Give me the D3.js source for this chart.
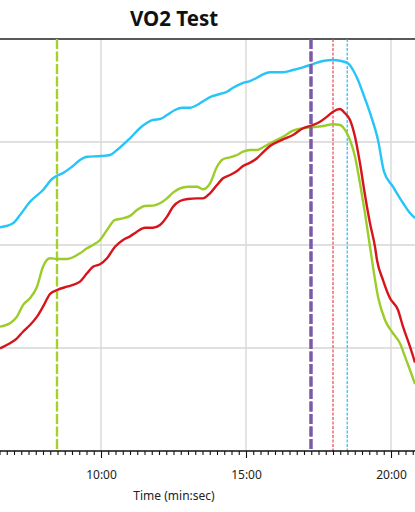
<!DOCTYPE html>
<html>
<head>
<meta charset="utf-8">
<script src="https://cdn.jsdelivr.net/npm/d3@7"></script>
<style>
  html, body { margin: 0; padding: 0; background: #fff; }
  svg { display: block; font-family: "Noto Sans", "Open Sans", sans-serif; }
</style>
</head>
<body>
<svg id="chart" width="415" height="512"></svg>
<script>
// ---- data (time in minutes, values in L/min) ----
const blueTime = [6.517, 6.966, 7.207, 7.552, 8.0, 8.310, 8.483, 8.690, 9.0, 9.276, 9.517, 10.0, 10.310, 10.552, 10.931, 11.0, 11.345, 11.586, 11.793, 12.034, 12.276, 12.552, 12.793, 13.069, 13.310, 13.586, 13.862, 14.103, 14.345, 14.552, 14.862, 15.138, 15.379, 15.586, 15.828, 16.276, 16.621, 16.966, 17.310, 17.655, 18.0, 18.241, 18.517, 18.690, 18.862, 19.034, 19.276, 19.552, 19.759, 20.069, 20.414, 20.655, 20.828];
const blueValues = [2.172, 2.211, 2.291, 2.420, 2.534, 2.641, 2.673, 2.699, 2.760, 2.825, 2.857, 2.864, 2.874, 2.922, 3.019, 3.036, 3.136, 3.187, 3.214, 3.223, 3.262, 3.311, 3.333, 3.333, 3.359, 3.408, 3.447, 3.466, 3.488, 3.527, 3.570, 3.592, 3.624, 3.657, 3.677, 3.677, 3.699, 3.725, 3.757, 3.786, 3.796, 3.789, 3.764, 3.699, 3.602, 3.473, 3.282, 3.019, 2.712, 2.566, 2.408, 2.311, 2.262];

const greenTime = [6.517, 6.862, 7.103, 7.310, 7.552, 7.793, 8.0, 8.241, 8.483, 8.828, 9.034, 9.276, 9.517, 9.724, 9.966, 10.207, 10.483, 10.759, 11.0, 11.241, 11.517, 11.793, 12.034, 12.276, 12.483, 12.724, 13.0, 13.310, 13.517, 13.759, 14.0, 14.207, 14.448, 14.690, 14.897, 15.138, 15.379, 15.586, 15.828, 16.276, 16.621, 16.966, 17.310, 17.655, 18.0, 18.241, 18.414, 18.586, 18.759, 18.931, 19.103, 19.276, 19.379, 19.552, 19.793, 20.069, 20.310, 20.483, 20.655, 20.828];
const greenValues = [1.207, 1.240, 1.304, 1.417, 1.483, 1.595, 1.789, 1.871, 1.864, 1.864, 1.881, 1.919, 1.968, 2.0, 2.049, 2.146, 2.243, 2.259, 2.283, 2.340, 2.379, 2.382, 2.405, 2.453, 2.508, 2.550, 2.566, 2.566, 2.541, 2.599, 2.760, 2.832, 2.851, 2.874, 2.906, 2.922, 2.922, 2.949, 2.987, 3.051, 3.110, 3.133, 3.143, 3.155, 3.172, 3.165, 3.117, 3.019, 2.857, 2.599, 2.308, 1.983, 1.789, 1.498, 1.272, 1.143, 1.046, 0.916, 0.786, 0.650];

const redTime = [6.517, 6.862, 7.103, 7.310, 7.552, 7.793, 8.0, 8.241, 8.483, 8.828, 9.034, 9.276, 9.517, 9.724, 9.966, 10.207, 10.483, 10.759, 11.0, 11.241, 11.517, 11.793, 12.034, 12.276, 12.483, 12.724, 13.0, 13.310, 13.517, 13.759, 14.0, 14.207, 14.448, 14.690, 14.897, 15.138, 15.379, 15.586, 15.828, 16.276, 16.621, 16.966, 17.310, 17.552, 17.793, 18.0, 18.241, 18.414, 18.586, 18.759, 18.931, 19.103, 19.276, 19.448, 19.517, 19.724, 19.966, 20.241, 20.414, 20.655, 20.828];
const redValues = [0.997, 1.046, 1.094, 1.158, 1.223, 1.304, 1.401, 1.524, 1.563, 1.595, 1.612, 1.644, 1.725, 1.789, 1.813, 1.871, 1.983, 2.049, 2.084, 2.129, 2.168, 2.168, 2.194, 2.275, 2.372, 2.427, 2.447, 2.453, 2.453, 2.502, 2.583, 2.648, 2.680, 2.718, 2.767, 2.799, 2.842, 2.900, 2.961, 3.026, 3.068, 3.133, 3.165, 3.197, 3.246, 3.294, 3.320, 3.279, 3.214, 3.051, 2.793, 2.485, 2.211, 1.983, 1.854, 1.660, 1.483, 1.369, 1.207, 1.013, 0.859];

// marker (threshold) times in minutes
const markerNames = ["VT1", "VT2", "VCO2 peak", "VO2 peak"];
const markerTimes = [8.483, 17.241, 18.0, 18.49];

const majorTicks = [10, 15, 20];
const yGridValues = [1, 2, 3];
const titleText = "VO2 Test";
const xTitleText = "Time (min:sec)";

// ---- layout ----
const W = 415, H = 512;
const plotTop = 39, plotBottom = 451;
const svg = d3.select("#chart");

const x = d3.scaleLinear().domain([10, 20]).range([101, 391]);
const y = d3.scaleLinear().domain([0, 4]).range([plotBottom, plotTop]);

const fmt = m => {
  const mm = Math.floor(m + 1e-9);
  const ss = Math.round((m - mm) * 60);
  return mm + ":" + String(ss).padStart(2, "0");
};

svg.append("defs").append("clipPath").attr("id", "clip")
  .append("rect").attr("x", 0).attr("y", plotTop).attr("width", W).attr("height", plotBottom - plotTop);

// grid
const grid = svg.append("g");
grid.selectAll("line.h").data(yGridValues).join("line")
  .attr("x1", 0).attr("x2", W)
  .attr("y1", d => y(d)).attr("y2", d => y(d))
  .attr("stroke", "#d6d6d6").attr("stroke-width", 1.3);
grid.selectAll("line.v").data(majorTicks).join("line")
  .attr("x1", d => x(d)).attr("x2", d => x(d))
  .attr("y1", plotTop).attr("y2", plotBottom)
  .attr("stroke", "#d6d6d6").attr("stroke-width", 1.3);

// top border
svg.append("line").attr("x1", 0).attr("x2", W)
  .attr("y1", y(4)).attr("y2", y(4))
  .attr("stroke", "#222").attr("stroke-width", 1.3);

// markers
const markerStyles = [
  { color: "#a6d02b", width: 2.4, dash: "10,2.5" },
  { color: "#7d5aa8", width: 3, dash: "10,2.5" },
  { color: "#e8474c", width: 1.2, dash: "3,1.5" },
  { color: "#29b9f2", width: 1.2, dash: "3,1.5" }
];
const plot = svg.append("g").attr("clip-path", "url(#clip)");

// series
const series = [
  { t: blueTime, v: blueValues, color: "#27c4f8" },
  { t: greenTime, v: greenValues, color: "#9acd2a" },
  { t: redTime, v: redValues, color: "#d7141c" }
];
const line = d3.line().x(d => x(d[0])).y(d => y(d[1])).curve(d3.curveMonotoneX);

plot.selectAll("line.marker").data(markerTimes).join("line")
  .attr("class", "marker")
  .attr("x1", d => x(d)).attr("x2", d => x(d))
  .attr("y1", plotTop).attr("y2", plotBottom)
  .attr("stroke", (d, i) => markerStyles[i].color)
  .attr("stroke-width", (d, i) => markerStyles[i].width)
  .attr("stroke-dasharray", (d, i) => markerStyles[i].dash);

plot.selectAll("path.series").data(series).join("path")
  .attr("class", "series")
  .attr("fill", "none")
  .attr("stroke", d => d.color)
  .attr("stroke-width", 2.4)
  .attr("stroke-linejoin", "round")
  .attr("d", d => line(d.t.map((t, i) => [t, d.v[i]])));

// redraw purple marker above series (as in reference)
plot.append("line")
  .attr("x1", x(markerTimes[1])).attr("x2", x(markerTimes[1]))
  .attr("y1", plotTop).attr("y2", plotBottom)
  .attr("stroke", markerStyles[1].color)
  .attr("stroke-width", markerStyles[1].width)
  .attr("stroke-dasharray", markerStyles[1].dash);

// x axis
const minorTicks = d3.range(5, 22.01, 0.25).filter(v => Math.abs(v % 5) > 1e-6);
const axisG = svg.append("g").attr("transform", `translate(0,${plotBottom})`);
axisG.call(d3.axisBottom(x).tickValues(minorTicks).tickSize(4).tickFormat(""));
axisG.call(g => g.select(".domain").remove());
const axisMajor = svg.append("g").attr("transform", `translate(0,${plotBottom})`)
  .call(d3.axisBottom(x).tickValues(majorTicks).tickSize(7).tickPadding(12).tickFormat(fmt));
axisMajor.select(".domain").remove();
svg.selectAll(".tick line").attr("stroke", "#111").attr("stroke-width", 1.1);
axisMajor.selectAll("text").attr("font-size", 12).attr("fill", "#222")
  .attr("font-family", "'Noto Sans', 'Open Sans', sans-serif");
svg.append("line").attr("x1", 0).attr("x2", W)
  .attr("y1", plotBottom).attr("y2", plotBottom)
  .attr("stroke", "#111").attr("stroke-width", 1.3);

// titles
svg.append("text").attr("x", 174).attr("y", 26)
  .attr("text-anchor", "middle").attr("font-size", 20.5).attr("font-weight", "bold")
  .attr("fill", "#111").text(titleText);
svg.append("text").attr("x", 174).attr("y", 500)
  .attr("text-anchor", "middle").attr("font-size", 12).attr("fill", "#222")
  .text(xTitleText);
</script>
</body>
</html>
